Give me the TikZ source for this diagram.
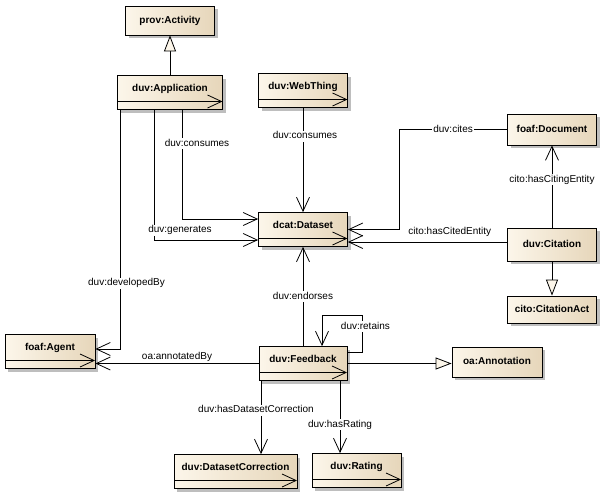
\documentclass[tikz,border=0pt]{standalone}
\usepackage{fontspec}
\setmainfont{Liberation Sans}
\usetikzlibrary{arrows.meta,shadows}

\definecolor{clsleft}{RGB}{252,246,234}
\definecolor{clsright}{RGB}{230,214,186}
\definecolor{shadowgray}{RGB}{190,190,190}

\tikzset{
  cls/.style={draw, left color=clsleft, right color=clsright,
    minimum width=89pt, minimum height=31pt, inner sep=0pt,
    font=\fontsize{10pt}{12pt}\selectfont\bfseries,
    text height=7pt, text depth=2pt,
    drop shadow={shadow xshift=3pt, shadow yshift=-3pt, fill=shadowgray, opacity=1}},
  comp/.style={cls, minimum height=34pt, text depth=10pt,
    path picture={\draw ([yshift=8pt]path picture bounding box.south west)
      -- ([yshift=8pt]path picture bounding box.south east);}},
  lbl/.style={font=\fontsize{10pt}{12pt}\selectfont, inner sep=1pt,
    text height=7pt, text depth=2pt},
  onln/.style={lbl, fill=white},
  gen/.style={-{Triangle[length=16pt,width=12pt,fill=clsleft]}}
}

\begin{document}
\begin{tikzpicture}[->,>={Straight Barb[length=14pt,width=13pt]},x=1pt,y=-1pt,thick]
  \useasboundingbox (0,0) rectangle (606,499);

  % classes
  \node (act) [cls, minimum height=29pt]                  at (170,20.5)  {prov:Activity};
  \node (app) [comp, minimum width=105pt]                 at (170,92.5)  {duv:Application};
  \node (web) [comp]                                      at (303,90.5)  {duv:WebThing};
  \node (ds)  [comp]                                      at (303,229.5) {dcat:Dataset};
  \node (doc) [cls]                                       at (552,129.5) {foaf:Document};
  \node (cit) [cls, minimum height=33pt]                  at (552,244.5) {duv:Citation};
  \node (citact) [cls, minimum height=27pt]               at (552,309.5) {cito:CitationAct};
  \node (agent) [comp, minimum width=90pt]                at (50,351.5)  {foaf:Agent};
  \node (fb)  [comp, minimum width=88pt]                  at (303,363.5) {duv:Feedback};
  \node (ann) [cls, minimum width=90pt, minimum height=30pt] at (497,362) {oa:Annotation};
  \node (dc)  [comp, minimum width=123pt]                 at (235.5,471.5) {duv:DatasetCorrection};
  \node (rat) [comp]                                      at (356.5,470.5) {duv:Rating};

  % generalisations
  \draw[gen] (app) -- (act);
  \draw[gen] (cit) -- (citact);
  \draw[gen] (fb.east) -- (fb.east -| ann.west);

  % associations
  \draw ([xshift=12pt]app.south) |- ([yshift=10.5pt]ds.west)
    node[onln, pos=0.156, xshift=15pt] {duv:consumes};
  \draw ([xshift=-16pt]app.south) |- ([yshift=-10.5pt]ds.west)
    node[onln, pos=0.625, yshift=10pt] {duv:generates};
  \draw ([xshift=-50pt]app.south) |- ([yshift=2.5pt]agent.east)
    node[onln, pos=0.362, xshift=6.5pt] {duv:developedBy};
  \path (web) edge node[onln, pos=0.27, xshift=2pt] {duv:consumes} (ds)
        (fb)  edge node[onln, pos=0.5] {duv:endorses} (ds)
        (cit) edge node[onln, pos=0.58] {cito:hasCitingEntity} (doc);
  \draw (doc.west) -- node[onln] {duv:cites} ++(-108,0) |- (ds.east);
  \draw ([yshift=2.5pt]cit.west) -- ([yshift=-12.5pt]ds.east)
    node[lbl, pos=0.36, yshift=10pt] {cito:hasCitedEntity};
  \draw ([yshift=11.5pt]fb.east) -- ++(15,0)
    -- node[onln, pos=0.68, xshift=3pt] {duv:retains} ++(0,-37)
    -| ([xshift=19pt]fb.north);
  \draw (fb.west) -- (fb.west -| agent.east)
    node[lbl, midway, yshift=6.5pt] {oa:annotatedBy};
  \draw ([xshift=-42pt]fb.south) -- ([xshift=-42pt]fb.south |- dc.north)
    node[onln, pos=0.4, xshift=-5pt] {duv:hasDatasetCorrection};
  \draw ([xshift=37pt]fb.south) -- ([xshift=37pt]fb.south |- rat.north)
    node[onln, pos=0.61] {duv:hasRating};
\end{tikzpicture}
\end{document}
